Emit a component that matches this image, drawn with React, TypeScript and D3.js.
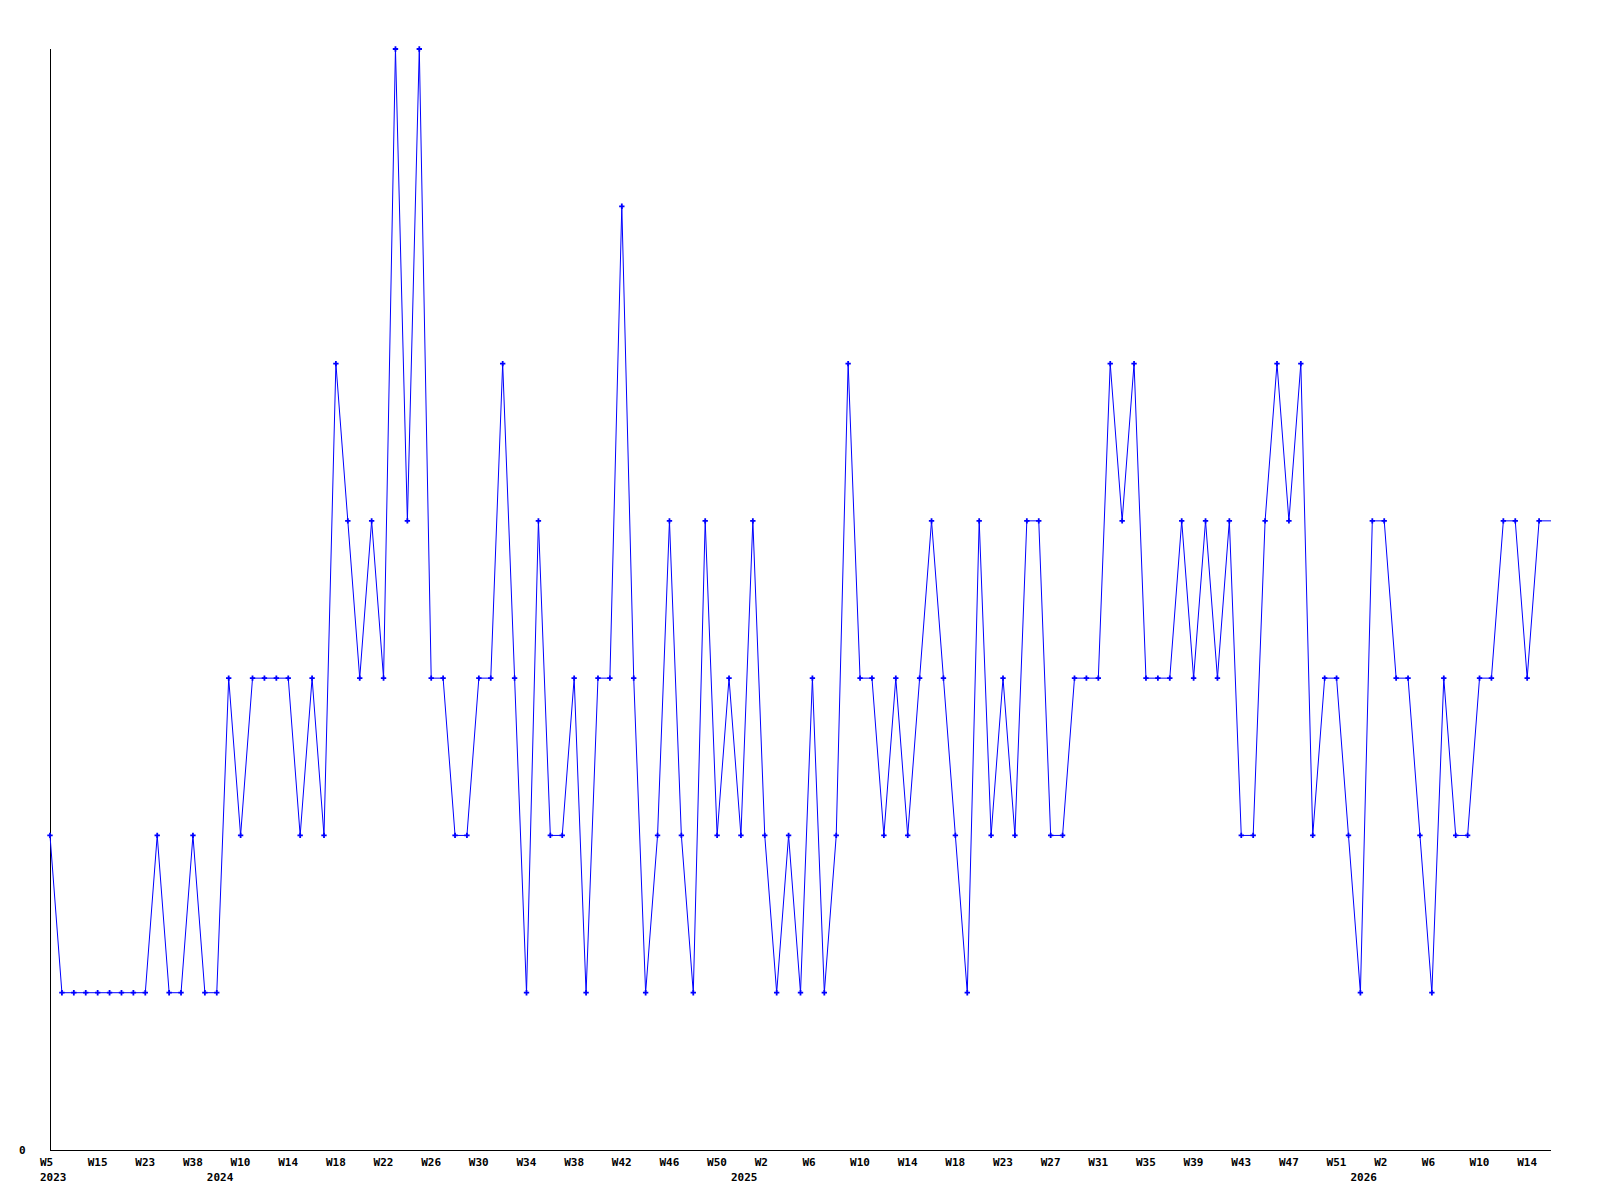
import { useEffect, useRef } from "react"
import * as d3 from "d3"

// week labels for every point (only every 4th one is printed)
const weeks = [
  "W5", "W7", "W9", "W12", "W15", "W17", "W19", "W21", "W23", "W27", "W31", "W35", "W38", "W44",
  "W8", "W9", "W10", "W11", "W12", "W13", "W14", "W15", "W16", "W17", "W18", "W19", "W20", "W21",
  "W22", "W23", "W24", "W25", "W26", "W27", "W28", "W29", "W30", "W31", "W32", "W33", "W34", "W35",
  "W36", "W37", "W38", "W39", "W40", "W41", "W42", "W43", "W44", "W45", "W46", "W47", "W48", "W49",
  "W50", "W51", "W52", "W1", "W2", "W3", "W4", "W5", "W6", "W7", "W8", "W9", "W10", "W11",
  "W12", "W13", "W14", "W15", "W16", "W17", "W18", "W20", "W21", "W22", "W23", "W24", "W25", "W26",
  "W27", "W28", "W29", "W30", "W31", "W32", "W33", "W34", "W35", "W36", "W37", "W38", "W39", "W40",
  "W41", "W42", "W43", "W44", "W45", "W46", "W47", "W48", "W49", "W50", "W51", "W52", "W53", "W1",
  "W2", "W3", "W4", "W5", "W6", "W7", "W8", "W9", "W10", "W11", "W12", "W13", "W14", "W15", "W16",
]

const yearStarts = [
  { index: 0, year: "2023" },
  { index: 14, year: "2024" },
  { index: 58, year: "2025" },
  { index: 110, year: "2026" },
]

const values = [
  2, 1, 1, 1, 1, 1, 1, 1, 1, 2, 1, 1, 2, 1, 1, 3, 2, 3, 3, 3,
  3, 2, 3, 2, 5, 4, 3, 4, 3, 7, 4, 7, 3, 3, 2, 2, 3, 3, 5, 3,
  1, 4, 2, 2, 3, 1, 3, 3, 6, 3, 1, 2, 4, 2, 1, 4, 2, 3, 2, 4,
  2, 1, 2, 1, 3, 1, 2, 5, 3, 3, 2, 3, 2, 3, 4, 3, 2, 1, 4, 2,
  3, 2, 4, 4, 2, 2, 3, 3, 3, 5, 4, 5, 3, 3, 3, 4, 3, 4, 3, 4,
  2, 2, 4, 5, 4, 5, 2, 3, 3, 2, 1, 4, 4, 3, 3, 2, 1, 3, 2, 2,
  3, 3, 4, 4, 3, 4, 4,
]

const yMax = 7

export default function App() {
  const svgRef = useRef<SVGSVGElement>(null)

  useEffect(() => {
    if (!svgRef.current) return
    const width = 1600
    const height = 1200
    const left = 50
    const right = 1551
    const top = 49
    const bottom = 1150

    const svg = d3.select(svgRef.current)
    svg.selectAll("*").remove()
    svg.attr("width", width).attr("height", height)

    const x = d3.scaleLinear().domain([0, values.length - 1]).range([left, right])
    const y = d3.scaleLinear().domain([0, yMax]).range([bottom, top])

    const font = "'DejaVu Sans Mono', monospace"

    // axes
    svg.append("line")
      .attr("x1", left + 0.5).attr("x2", left + 0.5)
      .attr("y1", top).attr("y2", bottom + 0.5)
      .attr("stroke", "#000").attr("stroke-width", 1)
    svg.append("line")
      .attr("x1", left).attr("x2", right)
      .attr("y1", bottom + 0.5).attr("y2", bottom + 0.5)
      .attr("stroke", "#000").attr("stroke-width", 1)

    svg.append("text")
      .attr("x", 19).attr("y", y(0) + 4)
      .attr("font-family", font).attr("font-size", 11).attr("font-weight", "bold")
      .text("0")

    // week tick labels, every 4th point
    const tickIdx = d3.range(0, values.length, 4)
    svg.append("g")
      .selectAll("text")
      .data(tickIdx)
      .join("text")
      .attr("x", (i) => x(i) - 10)
      .attr("y", 1166)
      .attr("font-family", font).attr("font-size", 11).attr("font-weight", "bold")
      .text((i) => weeks[i])

    svg.append("g")
      .selectAll("text")
      .data(yearStarts)
      .join("text")
      .attr("x", (d) => x(d.index) - 10)
      .attr("y", 1181)
      .attr("font-family", font).attr("font-size", 11).attr("font-weight", "bold")
      .text((d) => d.year)

    // line
    const line = d3.line<number>()
      .x((_, i) => x(i))
      .y((d) => y(d))

    svg.append("path")
      .datum(values)
      .attr("fill", "none")
      .attr("stroke", "#0000ff")
      .attr("stroke-width", 1)
      .attr("d", line)

    // markers (the last point sits on the plot edge and has none)
    const marker = d3.symbol().type(d3.symbolCross).size(16)
    svg.append("g")
      .selectAll("path")
      .data(values.slice(0, -1))
      .join("path")
      .attr("transform", (d, i) => `translate(${x(i)},${y(d)})`)
      .attr("fill", "#0000ff")
      .attr("d", marker)
  }, [])

  return <svg ref={svgRef} style={{ position: "absolute", left: 0, top: 0, background: "#fff" }} />
}
